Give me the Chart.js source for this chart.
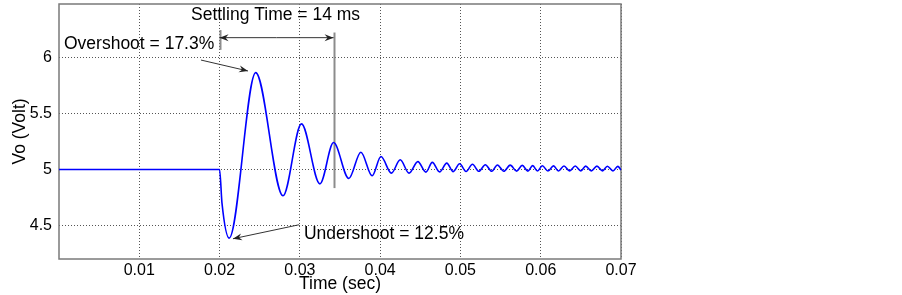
<!DOCTYPE html>
<html>
<head>
<meta charset="utf-8">
<script src="https://cdn.jsdelivr.net/npm/chart.js@4.4.1/dist/chart.umd.min.js"></script>
<style>
    html, body { margin: 0; padding: 0; background: #fff; }
    canvas { display: block; }
</style>
</head>
<body>
<canvas id="doThiVo" width="902" height="295"></canvas>
<script>
// thoi gian (s) va dien ap Vo (V) - cac dinh / day doc tu hinh
var thoiGian = [0, 0.0200, 0.0203, 0.0212, 0.0245, 0.0279, 0.0302, 0.0325, 0.0342, 0.0361, 0.0376, 0.0390, 0.0401, 0.0414, 0.0425, 0.0436, 0.0447, 0.0457,
    0.0465, 0.0474, 0.0483, 0.0491, 0.0499, 0.0507, 0.0515, 0.0523, 0.0531, 0.0539,
    0.0546, 0.0554, 0.0562, 0.0570, 0.0577, 0.0584, 0.0590, 0.0596, 0.0602, 0.0609,
    0.0616, 0.0622, 0.0629, 0.0636, 0.0643, 0.0650, 0.0656, 0.0663, 0.0670, 0.0677,
    0.0683, 0.0690, 0.0696, 0.0700];
var dienAp = [5.0, 5.0, 4.70, 4.387, 5.866, 4.765, 5.408, 4.872, 5.241, 4.920, 5.155, 4.944, 5.116, 4.968, 5.087, 4.968, 5.071, 4.977,
    5.064, 4.979, 5.057, 4.981, 5.051, 4.983, 5.047, 4.984, 5.043, 4.985,
    5.041, 4.985, 5.039, 4.986, 5.037, 4.986, 5.035, 4.987, 5.034, 4.987,
    5.033, 4.987, 5.032, 4.988, 5.031, 4.988, 5.030, 4.988, 5.030, 4.988,
    5.029, 4.988, 5.028, 4.996];

var xTicks = [0.01, 0.02, 0.03, 0.04, 0.05, 0.06, 0.07];
var yTicks = [4.5, 5, 5.5, 6];

// chu thich (don vi du lieu)
var nhanText = ['Settling Time = 14 ms', 'Overshoot = 17.3%', 'Undershoot = 12.5%'];
var nhanX = [0.01644, 0.00062, 0.03051];
var nhanY = [6.381, 6.122, 4.426];

// mui ten: tu (x1,y1) den dau mui (x2,y2)
var muiTenX1 = [0.0271, 0.0271, 0.01768, 0.02989];
var muiTenY1 = [6.179, 6.179, 5.979, 4.506];
var muiTenX2 = [0.0200, 0.0342, 0.02354, 0.02167];
var muiTenY2 = [6.179, 6.179, 5.881, 4.381];

// duong dung mau xam
var vachX = [0.0342, 0.0200];
var vachY1 = [6.225, 6.247];
var vachY2 = [4.834, 6.07];

var fontChu = 'Liberation Sans, Arial, sans-serif';

var chuThich = {
    id: 'chuThich',
    beforeDatasetsDraw: function (chart) {
        var ctx = chart.ctx;
        var sx = chart.scales.x;
        var sy = chart.scales.y;
        var a = chart.chartArea;
        ctx.save();
        ctx.strokeStyle = '#7a7a7a';
        ctx.lineWidth = 1.5;
        ctx.strokeRect(a.left, a.top, a.right - a.left, a.bottom - a.top);
        ctx.strokeStyle = '#8c8c8c';
        ctx.lineWidth = 2;
        vachX.forEach(function (x, i) {
            var px = Math.round(sx.getPixelForValue(x)) + 0.5;
            ctx.beginPath();
            ctx.moveTo(px, sy.getPixelForValue(vachY1[i]));
            ctx.lineTo(px, sy.getPixelForValue(vachY2[i]));
            ctx.stroke();
        });
        ctx.restore();
    },
    afterDraw: function (chart) {
        var ctx = chart.ctx;
        var sx = chart.scales.x;
        var sy = chart.scales.y;
        ctx.save();
        ctx.fillStyle = '#000';
        ctx.font = '17.5px ' + fontChu;
        ctx.textAlign = 'left';
        ctx.textBaseline = 'middle';
        nhanText.forEach(function (t, i) {
            ctx.fillText(t, sx.getPixelForValue(nhanX[i]), sy.getPixelForValue(nhanY[i]));
        });
        ctx.strokeStyle = '#333';
        ctx.fillStyle = '#222';
        ctx.lineWidth = 1;
        muiTenX1.forEach(function (x, i) {
            var x1 = sx.getPixelForValue(x), y1 = sy.getPixelForValue(muiTenY1[i]);
            var x2 = sx.getPixelForValue(muiTenX2[i]), y2 = sy.getPixelForValue(muiTenY2[i]);
            var goc = Math.atan2(y2 - y1, x2 - x1);
            ctx.beginPath();
            ctx.moveTo(x1, y1);
            ctx.lineTo(x2, y2);
            ctx.stroke();
            ctx.beginPath();
            ctx.moveTo(x2, y2);
            ctx.lineTo(x2 - 9 * Math.cos(goc) + 3.5 * Math.sin(goc), y2 - 9 * Math.sin(goc) - 3.5 * Math.cos(goc));
            ctx.lineTo(x2 - 6 * Math.cos(goc), y2 - 6 * Math.sin(goc));
            ctx.lineTo(x2 - 9 * Math.cos(goc) - 3.5 * Math.sin(goc), y2 - 9 * Math.sin(goc) + 3.5 * Math.cos(goc));
            ctx.closePath();
            ctx.fill();
        });
        ctx.restore();
    }
};

var duLieu = thoiGian.map(function (t, i) {
    return { x: t, y: dienAp[i] };
});

var ctx = document.getElementById('doThiVo').getContext('2d');
var _myChart = new Chart(ctx, {
    type: 'line',
    data: {
        datasets: [{
            label: 'Vo',
            data: duLieu,
            borderColor: '#0000ff',
            borderWidth: 1.6,
            pointRadius: 0,
            fill: false,
            cubicInterpolationMode: 'monotone'
        }]
    },
    options: {
        responsive: false,
        animation: false,
        devicePixelRatio: 1,
        layout: { padding: { top: 4, right: 281, left: 0, bottom: 0 } },
        plugins: { legend: { display: false }, tooltip: { enabled: false } },
        scales: {
            x: {
                type: 'linear',
                min: 0,
                max: 0.07,
                afterBuildTicks: function (s) {
                    s.ticks = xTicks.map(function (v) { return { value: v }; });
                },
                afterFit: function (s) {
                    s.height = 36;
                    s.paddingLeft = 0;
                    s.paddingRight = 0;
                },
                grid: { color: '#555', drawTicks: false, lineWidth: 1 },
                border: { display: false, dash: [1, 2] },
                ticks: {
                    color: '#000',
                    font: { family: fontChu, size: 16 },
                    padding: 2,
                    maxRotation: 0,
                    autoSkip: false,
                    callback: function (value) { return value.toFixed(2); }
                },
                title: {
                    display: true,
                    text: 'Time (sec)',
                    color: '#000',
                    font: { family: fontChu, size: 17.5 },
                    padding: { top: 0, bottom: 0 }
                }
            },
            y: {
                min: 4.2,
                max: 6.48,
                afterBuildTicks: function (s) {
                    s.ticks = yTicks.map(function (v) { return { value: v }; });
                },
                afterFit: function (s) {
                    s.width = 59;
                    s.paddingTop = 0;
                    s.paddingBottom = 0;
                },
                grid: { color: '#555', drawTicks: false, lineWidth: 1 },
                border: { display: false, dash: [1, 2] },
                ticks: {
                    color: '#000',
                    font: { family: fontChu, size: 16 },
                    padding: 7,
                    callback: function (value) { return String(value); }
                },
                title: {
                    display: true,
                    text: 'Vo (Volt)',
                    color: '#000',
                    font: { family: fontChu, size: 17.5 },
                    padding: { top: 10, bottom: 0 }
                }
            }
        }
    },
    plugins: [chuThich]
});
</script>
</body>
</html>
